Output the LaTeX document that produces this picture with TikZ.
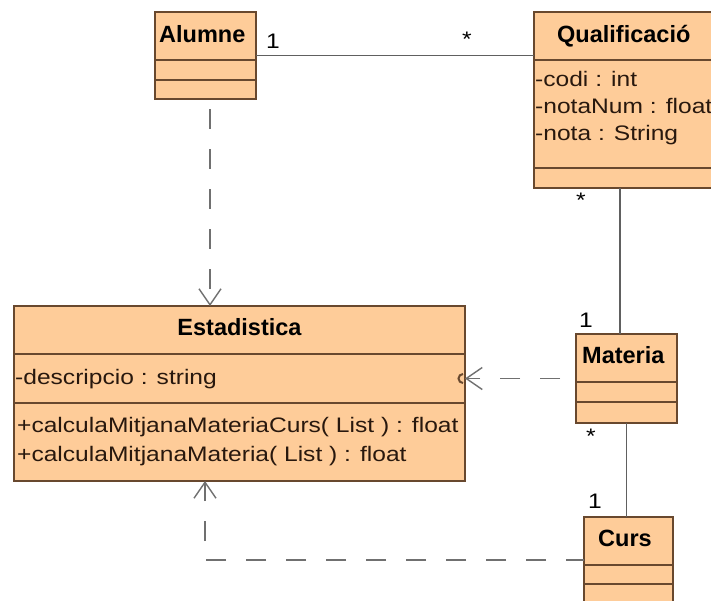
\documentclass[tikz,border=0pt]{standalone}
\usepackage{fontspec}
\setmainfont{Liberation Sans}
\newfontfamily\attrfont{Liberation Sans}[FakeStretch=1.17]
\usetikzlibrary{arrows.meta,calc}

\definecolor{classfill}{RGB}{254,204,153}
\definecolor{classline}{RGB}{104,72,46}
\definecolor{linkgray}{RGB}{96,96,96}
\definecolor{dashgray}{RGB}{112,112,112}
\definecolor{textdark}{RGB}{40,24,14}

\tikzset{
  classbox/.style={draw=classline, fill=classfill, line width=1.4pt,
    inner sep=0pt, outer sep=0pt, anchor=north west},
  compart/.style={draw=classline, line width=1.4pt},
  classname/.style={inner sep=0pt, anchor=base west, text=black,
    font=\fontsize{23.5}{28}\selectfont\bfseries},
  member/.style={inner sep=0pt, anchor=base west, text=textdark,
    font=\attrfont\fontsize{21}{25}\selectfont},
  mult/.style={inner sep=0pt, anchor=base west, text=black,
    font=\attrfont\fontsize{21}{25}\selectfont},
  assoc/.style={draw=linkgray, line width=1.4pt},
  depend/.style={draw=dashgray, line width=1.4pt, dash pattern=on 20pt off 20pt,
    -{Straight Barb[length=16pt,width=22pt,line width=1.4pt]}},
}

\begin{document}
\begin{tikzpicture}[x=1pt,y=-1pt]
\useasboundingbox (0,0) rectangle (711,600);
\clip (0,0) rectangle (711,600);
\fill[white] (0,0) rectangle (711,600);

% class boxes
\node[classbox, minimum width=101pt, minimum height=87pt] (alumne) at (155,12) {};
\draw[compart] ($(alumne.north west)+(0,48)$) -- ($(alumne.north east)+(0,48)$);
\draw[compart] ($(alumne.north west)+(0,68)$) -- ($(alumne.north east)+(0,68)$);

\node[classbox, minimum width=200pt, minimum height=176pt] (qual) at (534,12) {};
\draw[compart] ($(qual.north west)+(0,48)$) -- ($(qual.north east)+(0,48)$);
\draw[compart] ($(qual.north west)+(0,156)$) -- ($(qual.north east)+(0,156)$);

\node[classbox, minimum width=451pt, minimum height=175pt] (estad) at (14,306) {};
\draw[compart] ($(estad.north west)+(0,48)$) -- ($(estad.north east)+(0,48)$);
\draw[compart] ($(estad.north west)+(0,97)$) -- ($(estad.north east)+(0,97)$);

\node[classbox, minimum width=101pt, minimum height=89pt] (materia) at (576,334) {};
\draw[compart] ($(materia.north west)+(0,48)$) -- ($(materia.north east)+(0,48)$);
\draw[compart] ($(materia.north west)+(0,68)$) -- ($(materia.north east)+(0,68)$);

\node[classbox, minimum width=89pt, minimum height=100pt] (curs) at (584,517) {};
\draw[compart] ($(curs.north west)+(0,48)$) -- ($(curs.north east)+(0,48)$);
\draw[compart] ($(curs.north west)+(0,67)$) -- ($(curs.north east)+(0,67)$);

% class names
\node[classname] (alumneName) at (159,42) {Alumne};
\node[classname] (qualName) at (557,42) {Qualificació};
\node[classname, anchor=base] (estadName) at (239.5,335) {Estadistica};
\node[classname] (materiaName) at (582,363) {Materia};
\node[classname] (cursName) at (598,546) {Curs};

% members
\node[member] (qa1) at (535,86) {-codi : int};
\node[member] (qa2) at (535,113) {-notaNum : float};
\node[member] (qa3) at (535,140) {-nota : String};
\node[member] (ea1) at (15,384) {-descripcio : string};
\node[member] (em1) at (17,432) {+calculaMitjanaMateriaCurs( List ) : float};
\node[member] (em2) at (17,461) {+calculaMitjanaMateria( List ) : float};

% associations
\draw[assoc] (alumne.east) -- (alumne.east -| qual.west);
\coordinate (qmTop) at ($(qual.south west)+(86,0)$);
\coordinate (qmBot) at ($(materia.north west)+(44,0)$);
\draw[assoc] (qmTop) -- (qmBot);
\draw[assoc] (materia.south) -- (materia.south |- curs.north);

% multiplicities
\node[mult] (m1) at (266,48) {1};
\node[mult] (m2) at (462,46) {*};
\node[mult] (m3) at (576,207) {*};
\node[mult] (m4) at (579,327) {1};
\node[mult] (m5) at (586,443) {*};
\node[mult] (m6) at (588,508) {1};

% dependencies
\coordinate (alDep) at ($(alumne.south)+(4.5,0)$);
\draw[depend, dash phase=30pt] (alDep) -- (alDep |- estad.north);
\draw[depend, dash phase=24pt] (materia.west) -- (materia.west -| estad.east);
\draw[classline, line width=2pt] ($(materia.west -| estad.east)+(-2,-4.5)$)
  arc[start angle=90, end angle=270, radius=4.5pt];
\coordinate (cuDep) at ($(curs.north west)+(0,43)$);
\coordinate (xRef) at (205,0);
\coordinate (cuCorner) at (xRef |- cuDep);
\coordinate (cuTip) at (xRef |- estad.south);
\draw[depend, dash phase=2pt] (cuDep) -- (cuCorner) -- (cuTip);
\end{tikzpicture}
\end{document}
